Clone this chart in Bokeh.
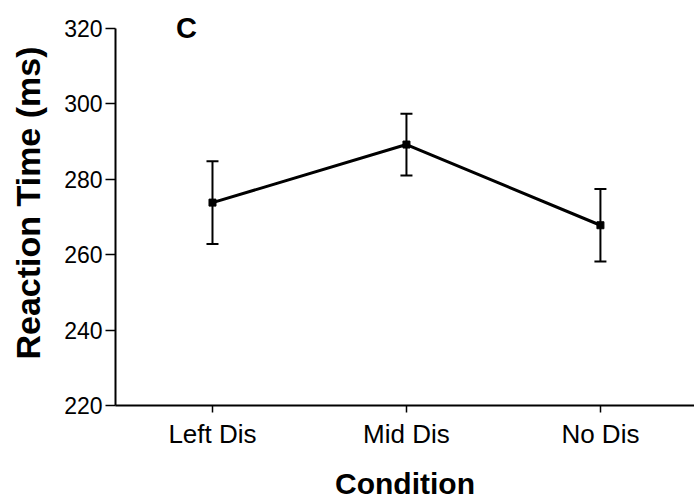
from bokeh.plotting import figure
from bokeh.models import ColumnDataSource, Whisker, TeeHead, FixedTicker, Range1d
from bokeh.core.properties import value
from bokeh.embed import file_html
from bokeh.resources import INLINE

# Mean reaction time per distractor condition, with standard error
conditions = ["Left Dis", "Mid Dis", "No Dis"]
positions = [1, 2, 3]
mean_rt = [273.8, 289.2, 267.8]
sem_rt = [11.0, 8.2, 9.6]
y_ticks = [220, 240, 260, 280, 300, 320]

lower = [m - s for m, s in zip(mean_rt, sem_rt)]
upper = [m + s for m, s in zip(mean_rt, sem_rt)]
src = ColumnDataSource(dict(x=positions, y=mean_rt, lower=lower, upper=upper))

FONT = "Liberation Sans"

# a little headroom above 320 so the panel letter is not clipped;
# the axis line itself stops at 320
p = figure(width=694, height=502, output_backend="svg", toolbar_location=None,
           x_range=Range1d(0.5, 3.485), y_range=Range1d(220, 327.4),
           min_border_left=115, min_border_right=0, min_border_top=0,
           min_border_bottom=92)
p.outline_line_color = None
p.xgrid.visible = False
p.ygrid.visible = False
p.background_fill_color = "white"
p.border_fill_color = "white"

# error bars
wh = Whisker(source=src, base="x", lower="lower", upper="upper",
             line_color="black", line_width=2,
             upper_head=TeeHead(size=12, line_width=2, line_color="black"),
             lower_head=TeeHead(size=12, line_width=2, line_color="black"))
p.add_layout(wh)

p.line("x", "y", source=src, line_color="black", line_width=3)
p.scatter("x", "y", source=src, marker="square", size=7,
          fill_color="black", line_color="black")

# panel letter
p.text(x=[0.866], y=[320], text=["C"], text_font=value(FONT),
       text_font_style="bold", text_font_size="29px",
       text_baseline="middle", text_align="center", text_color="black")

# axes
p.xaxis.ticker = FixedTicker(ticks=positions)
p.xaxis.major_label_overrides = {pos: lab for pos, lab in zip(positions, conditions)}
p.yaxis.ticker = FixedTicker(ticks=y_ticks)
p.yaxis.bounds = (220, 320)
p.xaxis.minor_tick_line_color = None
p.yaxis.minor_tick_line_color = None

for ax in (p.xaxis, p.yaxis):
    ax.axis_line_width = 2
    ax.axis_line_color = "black"
    ax.major_tick_line_width = 1.5
    ax.major_tick_line_color = "black"
    ax.major_tick_in = 0
    ax.major_label_text_font = FONT
    ax.major_label_text_color = "black"
    ax.axis_label_text_font = FONT
    ax.axis_label_text_font_style = "bold"
    ax.axis_label_text_color = "black"

p.xaxis.major_tick_out = 7
p.yaxis.major_tick_out = 10
p.yaxis.major_label_text_font_size = "23px"
p.xaxis.major_label_text_font_size = "26px"
p.xaxis.axis_label_text_font_size = "30px"
p.yaxis.axis_label_text_font_size = "34px"

p.yaxis.major_label_standoff = 3
p.xaxis.major_label_standoff = 6
p.xaxis.axis_label = "Condition"
p.yaxis.axis_label = "Reaction Time (ms)"
p.xaxis.axis_label_standoff = 15
p.yaxis.axis_label_standoff = 14

open("out.html", "w").write(file_html(p, INLINE))
